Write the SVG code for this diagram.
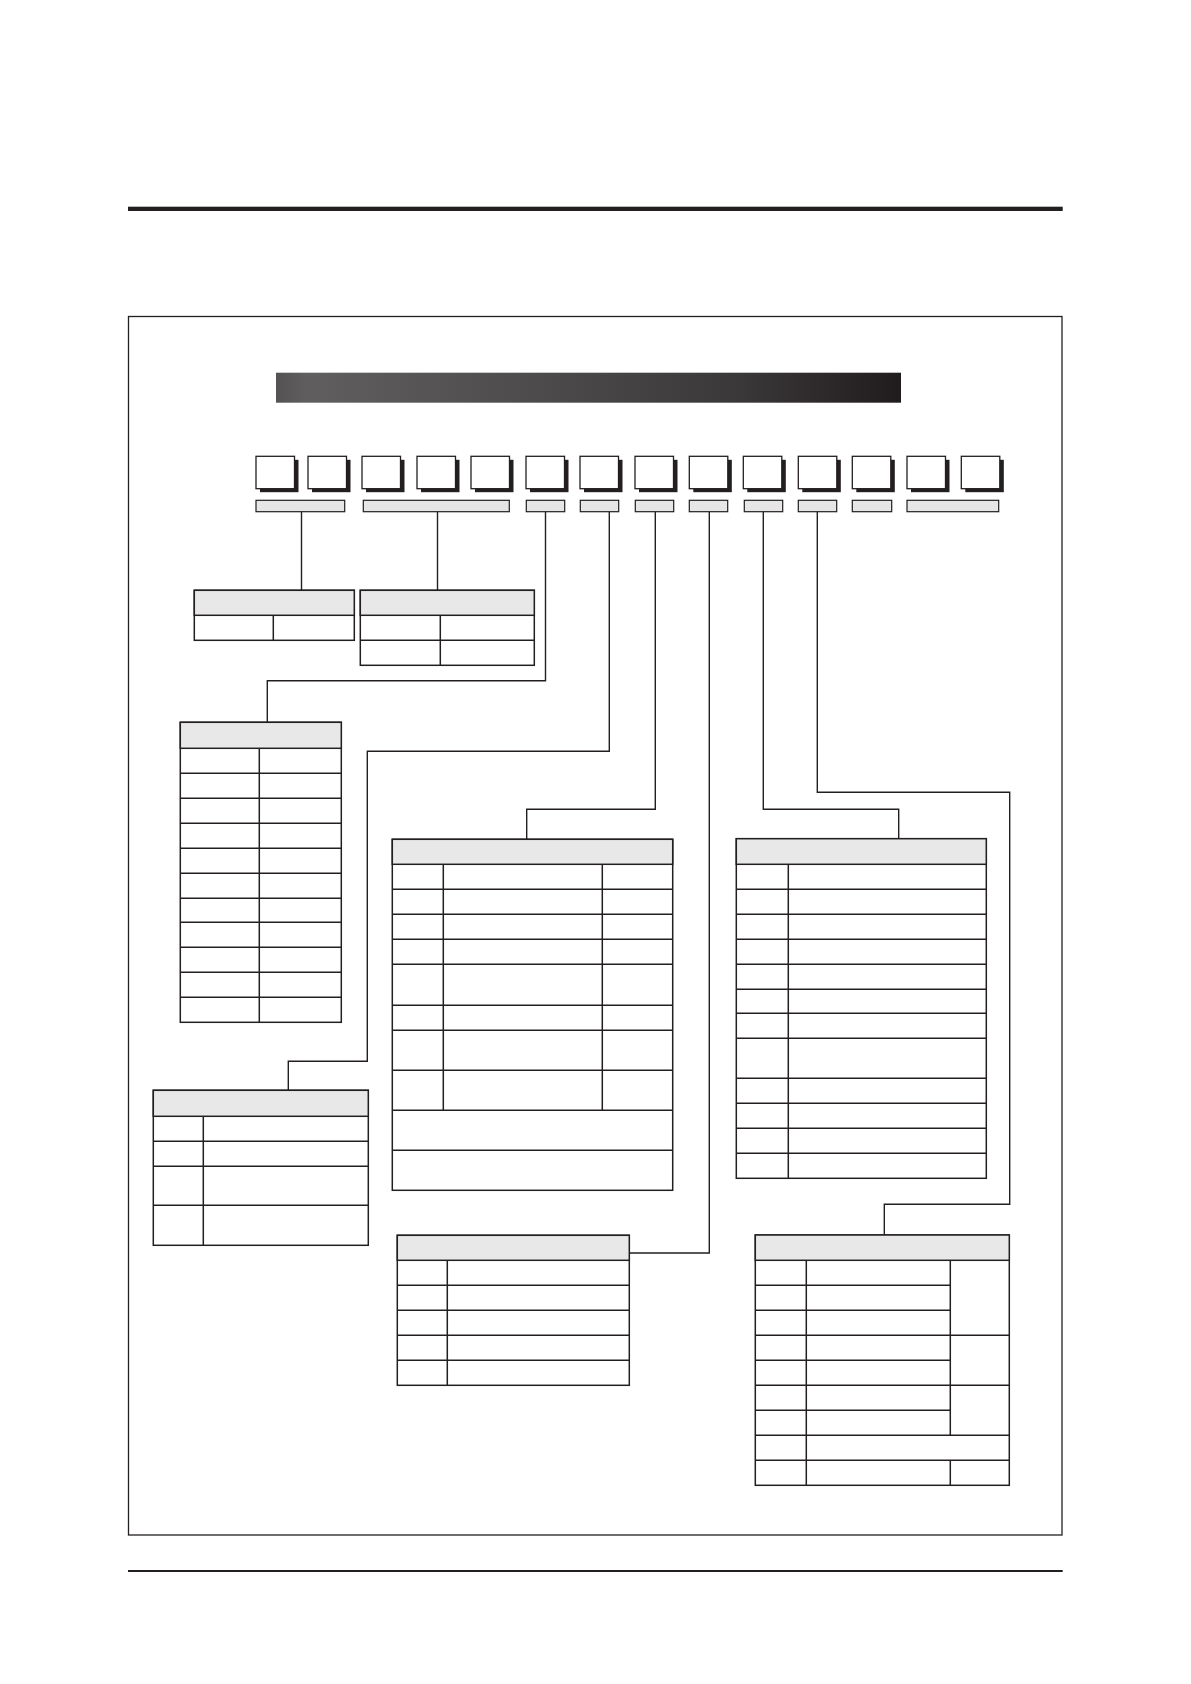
<svg xmlns="http://www.w3.org/2000/svg" width="1191" height="1684" viewBox="0 0 1191 1684">
<style>
.ln{fill:none;stroke:#231f20;stroke-width:1.4}
.tb{fill:#ffffff;stroke:#231f20;stroke-width:1.5}
.hd{fill:#e8e8e8;stroke:#231f20;stroke-width:1.5}
.gl{stroke:#231f20;stroke-width:1.5;fill:none}
.bx{fill:#ffffff;stroke:#231f20;stroke-width:1.3}
.sh{fill:#231f20}
.bar{fill:#e6e6e6;stroke:#231f20;stroke-width:1.2}
</style>
<defs>
<linearGradient id="grad" x1="0" y1="0" x2="1" y2="0">
<stop offset="0" stop-color="#545252"/>
<stop offset="0.05" stop-color="#605e5e"/>
<stop offset="0.45" stop-color="#4b4949"/>
<stop offset="0.75" stop-color="#3a3738"/>
<stop offset="1" stop-color="#201c1d"/>
</linearGradient>
</defs>
<rect width="1191" height="1684" fill="#ffffff"/>
<g id="page">
<rect x="128" y="206.7" width="934.7" height="4.3" fill="#231f20"/>
<rect x="128" y="1570" width="934.7" height="2" fill="#231f20"/>
<rect x="128.5" y="316.5" width="933.5" height="1218.5" fill="none" stroke="#231f20" stroke-width="1.3"/>
<rect id="title-bar" x="276" y="372.7" width="625" height="30" fill="url(#grad)"/>
</g>
<g id="code-boxes">
<rect class="sh" x="260" y="459.8" width="38.5" height="32.4"/><rect class="bx" x="256" y="456.3" width="38.5" height="32.4"/>
<rect class="sh" x="312" y="459.8" width="38.5" height="32.4"/><rect class="bx" x="308" y="456.3" width="38.5" height="32.4"/>
<rect class="sh" x="366" y="459.8" width="38.5" height="32.4"/><rect class="bx" x="362" y="456.3" width="38.5" height="32.4"/>
<rect class="sh" x="421" y="459.8" width="38.5" height="32.4"/><rect class="bx" x="417" y="456.3" width="38.5" height="32.4"/>
<rect class="sh" x="475" y="459.8" width="38.5" height="32.4"/><rect class="bx" x="471" y="456.3" width="38.5" height="32.4"/>
<rect class="sh" x="530" y="459.8" width="38.5" height="32.4"/><rect class="bx" x="526" y="456.3" width="38.5" height="32.4"/>
<rect class="sh" x="584" y="459.8" width="38.5" height="32.4"/><rect class="bx" x="580" y="456.3" width="38.5" height="32.4"/>
<rect class="sh" x="639" y="459.8" width="38.5" height="32.4"/><rect class="bx" x="635" y="456.3" width="38.5" height="32.4"/>
<rect class="sh" x="693.3" y="459.8" width="38.5" height="32.4"/><rect class="bx" x="689.3" y="456.3" width="38.5" height="32.4"/>
<rect class="sh" x="747.3" y="459.8" width="38.5" height="32.4"/><rect class="bx" x="743.3" y="456.3" width="38.5" height="32.4"/>
<rect class="sh" x="802.3" y="459.8" width="38.5" height="32.4"/><rect class="bx" x="798.3" y="456.3" width="38.5" height="32.4"/>
<rect class="sh" x="856.3" y="459.8" width="38.5" height="32.4"/><rect class="bx" x="852.3" y="456.3" width="38.5" height="32.4"/>
<rect class="sh" x="911" y="459.8" width="38.5" height="32.4"/><rect class="bx" x="907" y="456.3" width="38.5" height="32.4"/>
<rect class="sh" x="965.3" y="459.8" width="38.5" height="32.4"/><rect class="bx" x="961.3" y="456.3" width="38.5" height="32.4"/>
</g>
<g id="code-bars">
<rect class="bar" x="256" y="500.3" width="88.7" height="11.4"/>
<rect class="bar" x="363.3" y="500.3" width="146" height="11.4"/>
<rect class="bar" x="526.3" y="500.3" width="38.4" height="11.4"/>
<rect class="bar" x="580.3" y="500.3" width="38.4" height="11.4"/>
<rect class="bar" x="635.3" y="500.3" width="38.4" height="11.4"/>
<rect class="bar" x="689.3" y="500.3" width="38.4" height="11.4"/>
<rect class="bar" x="744.3" y="500.3" width="38.4" height="11.4"/>
<rect class="bar" x="798.3" y="500.3" width="38.4" height="11.4"/>
<rect class="bar" x="852.3" y="500.3" width="39.4" height="11.4"/>
<rect class="bar" x="907" y="500.3" width="91.7" height="11.4"/>
</g>
<g id="connectors">
<path class="ln" d="M301.5 511.7 V590.3"/>
<path class="ln" d="M437.5 511.7 V590.3"/>
<path class="ln" d="M545.5 511.7 V680.7 H267.3 V722.3"/>
<path class="ln" d="M609.3 511.7 V751.3 H367.3 V1061.3 H288.3 V1090.3"/>
<path class="ln" d="M655.3 511.7 V809.3 H526.7 V839.3"/>
<path class="ln" d="M709.3 511.7 V1253 H629.3"/>
<path class="ln" d="M763.3 511.7 V809.3 H898.7 V838.7"/>
<path class="ln" d="M817.3 511.7 V792.3 H1009.7 V1204.3 H884.3 V1235"/>
</g>
<g id="table-a">
<rect class="tb" x="194.3" y="590.3" width="160" height="50"/>
<rect class="hd" x="194.3" y="590.3" width="160" height="25"/>
<path class="gl" d="M273.3 615.3 V640.3"/>
</g>
<g id="table-b">
<rect class="tb" x="360.3" y="590.3" width="174" height="75"/>
<rect class="hd" x="360.3" y="590.3" width="174" height="25"/>
<path class="gl" d="M360.3 640.3 H534.3 M440.3 615.3 V665.3"/>
</g>
<g id="table-c">
<rect class="tb" x="180.3" y="722.3" width="161" height="300"/>
<rect class="hd" x="180.3" y="722.3" width="161" height="26"/>
<path class="gl" d="M180.3 773.3 H341.3 M180.3 798.3 H341.3 M180.3 823.3 H341.3 M180.3 848.3 H341.3 M180.3 873.3 H341.3 M180.3 898.3 H341.3 M180.3 922.3 H341.3 M180.3 947.3 H341.3 M180.3 972.3 H341.3 M180.3 997.3 H341.3 M259.3 748.3 V1022.3"/>
</g>
<g id="table-d">
<rect class="tb" x="153.3" y="1090.3" width="215" height="155"/>
<rect class="hd" x="153.3" y="1090.3" width="215" height="26"/>
<path class="gl" d="M153.3 1141.3 H368.3 M153.3 1166.3 H368.3 M153.3 1205.3 H368.3 M203.3 1116.3 V1245.3"/>
</g>
<g id="table-e">
<rect class="tb" x="392.3" y="839.3" width="280.4" height="351"/>
<rect class="hd" x="392.3" y="839.3" width="280.4" height="25"/>
<path class="gl" d="M392.3 889.3 H672.7 M392.3 914.3 H672.7 M392.3 939.3 H672.7 M392.3 964.3 H672.7 M392.3 1005.3 H672.7 M392.3 1030.3 H672.7 M392.3 1070.3 H672.7 M392.3 1110.3 H672.7 M392.3 1150.3 H672.7 M443.3 864.3 V1110.3 M602.3 864.3 V1110.3"/>
</g>
<g id="table-f">
<rect class="tb" x="397.3" y="1235.3" width="232" height="150"/>
<rect class="hd" x="397.3" y="1235.3" width="232" height="25"/>
<path class="gl" d="M397.3 1285.3 H629.3 M397.3 1310.3 H629.3 M397.3 1335.3 H629.3 M397.3 1360.3 H629.3 M447.3 1260.3 V1385.3"/>
</g>
<g id="table-g">
<rect class="tb" x="736.3" y="838.7" width="250" height="339.6"/>
<rect class="hd" x="736.3" y="838.7" width="250" height="25.6"/>
<path class="gl" d="M736.3 889.3 H986.3 M736.3 914.3 H986.3 M736.3 939.3 H986.3 M736.3 964.3 H986.3 M736.3 989.3 H986.3 M736.3 1013.3 H986.3 M736.3 1038.3 H986.3 M736.3 1078.3 H986.3 M736.3 1103.3 H986.3 M736.3 1128.3 H986.3 M736.3 1153.3 H986.3 M788.3 864.3 V1178.3"/>
</g>
<g id="table-h">
<rect class="tb" x="755.3" y="1235" width="254" height="250.3"/>
<rect class="hd" x="755.3" y="1235" width="254" height="25.3"/>
<path class="gl" d="M755.3 1285.3 H950.3 M755.3 1310.3 H950.3 M755.3 1360.3 H950.3 M755.3 1410.3 H950.3 M755.3 1335.3 H1009.3 M755.3 1385.3 H1009.3 M755.3 1435.3 H1009.3 M755.3 1460.3 H1009.3 M806.3 1260.3 V1485.3 M950.3 1260.3 V1435.3 M950.3 1460.3 V1485.3"/>
</g>
</svg>
